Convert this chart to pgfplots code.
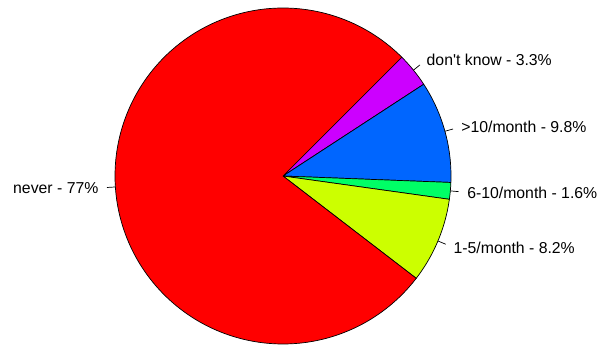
\documentclass[border=0pt]{standalone}
\usepackage{fontspec}
\setmainfont{Liberation Sans}
\usepackage{pgfplots}
\usepackage{pgfplotstable}
\pgfplotsset{compat=1.18}
\definecolor{cNever}{HTML}{FF0000}
\definecolor{cOne}{HTML}{CCFF00}
\definecolor{cSix}{HTML}{00FF66}
\definecolor{cTen}{HTML}{0066FF}
\definecolor{cDK}{HTML}{CC00FF}
\pgfplotstableread[col sep=comma]{
label,value
don\textquotesingle t know,3.3
>10/month,9.8
6-10/month,1.6
1-5/month,8.2
never,77
}\piedata
\begin{document}
\begin{tikzpicture}
\useasboundingbox (0,0) rectangle (599bp,345bp);
\pgfplotstablegetelem{0}{value}\of\piedata \let\vA\pgfplotsretval
\pgfplotstablegetelem{1}{value}\of\piedata \let\vB\pgfplotsretval
\pgfplotstablegetelem{2}{value}\of\piedata \let\vC\pgfplotsretval
\pgfplotstablegetelem{3}{value}\of\piedata \let\vD\pgfplotsretval
\pgfplotstablegetelem{4}{value}\of\piedata \let\vE\pgfplotsretval
\pgfplotstablegetelem{0}{label}\of\piedata \let\lA\pgfplotsretval
\pgfplotstablegetelem{1}{label}\of\piedata \let\lB\pgfplotsretval
\pgfplotstablegetelem{2}{label}\of\piedata \let\lC\pgfplotsretval
\pgfplotstablegetelem{3}{label}\of\piedata \let\lD\pgfplotsretval
\pgfplotstablegetelem{4}{label}\of\piedata \let\lE\pgfplotsretval
\pgfmathsetmacro\tot{\vA+\vB+\vC+\vD+\vE}
\pgfmathsetmacro\aA{45}
\pgfmathsetmacro\aB{\aA-\vA/\tot*360}
\pgfmathsetmacro\aC{\aB-\vB/\tot*360}
\pgfmathsetmacro\aD{\aC-\vC/\tot*360}
\pgfmathsetmacro\aE{\aD-\vD/\tot*360}
\pgfmathsetmacro\aF{\aE-\vE/\tot*360}
\pgfmathsetmacro\mA{(\aA+\aB)/2}
\pgfmathsetmacro\mB{(\aB+\aC)/2}
\pgfmathsetmacro\mC{(\aC+\aD)/2}
\pgfmathsetmacro\mD{(\aD+\aE)/2}
\pgfmathsetmacro\mE{(\aE+\aF)/2}
\foreach \m/\n in {mA/A,mB/B,mC/C,mD/D,mE/E}{
  \pgfmathsetmacro\cx{cos(\csname\m\endcsname)}
  \pgfmathsetmacro\cy{sin(\csname\m\endcsname)}
  \expandafter\xdef\csname cx\n\endcsname{\cx}
  \expandafter\xdef\csname cy\n\endcsname{\cy}
}
\begin{axis}[
  at={(283bp,169bp)}, anchor=origin,
  scale only axis, width=336bp, height=336bp,
  xmin=-1, xmax=1, ymin=-1, ymax=1,
  hide axis, clip=false,
  every axis plot/.append style={draw=black, line width=0.7bp},
]
\addplot[fill=cDK, domain=\aB:\aA, samples=20, variable=\t] ({cos(\t)},{sin(\t)}) -- (axis cs:0,0) -- cycle;
\addplot[fill=cTen, domain=\aC:\aB, samples=40, variable=\t] ({cos(\t)},{sin(\t)}) -- (axis cs:0,0) -- cycle;
\addplot[fill=cSix, domain=\aD:\aC, samples=10, variable=\t] ({cos(\t)},{sin(\t)}) -- (axis cs:0,0) -- cycle;
\addplot[fill=cOne, domain=\aE:\aD, samples=40, variable=\t] ({cos(\t)},{sin(\t)}) -- (axis cs:0,0) -- cycle;
\addplot[fill=cNever, domain=\aF:\aE, samples=250, variable=\t] ({cos(\t)},{sin(\t)}) -- (axis cs:0,0) -- cycle;
\draw[line width=0.7bp] (axis cs:\cxA,\cyA) -- (axis cs:1.05*\cxA,1.05*\cyA);
\draw[line width=0.7bp] (axis cs:\cxB,\cyB) -- (axis cs:1.05*\cxB,1.05*\cyB);
\draw[line width=0.7bp] (axis cs:\cxC,\cyC) -- (axis cs:1.05*\cxC,1.05*\cyC);
\draw[line width=0.7bp] (axis cs:\cxD,\cyD) -- (axis cs:1.05*\cxD,1.05*\cyD);
\draw[line width=0.7bp] (axis cs:\cxE,\cyE) -- (axis cs:1.05*\cxE,1.05*\cyE);
\node[anchor=west, inner sep=0, font=\fontsize{15.86pt}{19pt}\selectfont] at (axis cs:1.1*\cxA,1.1*\cyA) {\lA\ - \vA\%};
\node[anchor=west, inner sep=0, font=\fontsize{15.86pt}{19pt}\selectfont] at (axis cs:1.1*\cxB,1.1*\cyB) {\lB\ - \vB\%};
\node[anchor=west, inner sep=0, font=\fontsize{15.86pt}{19pt}\selectfont] at (axis cs:1.1*\cxC,1.1*\cyC) {\lC\ - \vC\%};
\node[anchor=west, inner sep=0, font=\fontsize{15.86pt}{19pt}\selectfont] at (axis cs:1.1*\cxD,1.1*\cyD) {\lD\ - \vD\%};
\node[anchor=east, inner sep=0, font=\fontsize{15.86pt}{19pt}\selectfont] at (axis cs:1.1*\cxE,1.1*\cyE) {\lE\ - \vE\%};
\end{axis}
\end{tikzpicture}
\end{document}
